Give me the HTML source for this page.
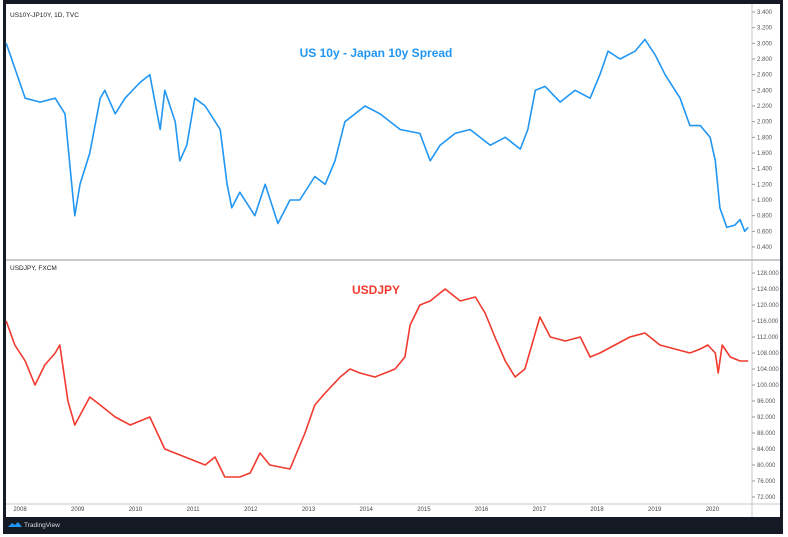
<!DOCTYPE html>
<html><head><meta charset="utf-8"><style>
body{margin:0;background:#fff;}
svg{display:block;font-family:"Liberation Sans",sans-serif;}
</style></head><body>
<svg id="c" width="788" height="537" viewBox="0 0 788 537">
<rect x="3" y="0" width="780" height="534" fill="#161a25"/>
<rect x="6" y="4" width="774" height="513" fill="#ffffff"/>
<line x1="752" y1="4" x2="752" y2="517" stroke="#c8c8c8" stroke-width="1"/>
<line x1="6" y1="260" x2="780" y2="260" stroke="#b8b8b8" stroke-width="1.5"/>
<line x1="6" y1="504" x2="780" y2="504" stroke="#c8c8c8" stroke-width="1"/>
<text x="10" y="17" font-size="6.5" fill="#222">US10Y-JP10Y, 1D, TVC</text>
<text x="10" y="270" font-size="6.5" fill="#222">USDJPY, FXCM</text>
<text x="376" y="57" font-size="12" font-weight="bold" fill="#2196f3" text-anchor="middle">US 10y - Japan 10y Spread</text>
<text x="376" y="294" font-size="12" font-weight="bold" fill="#f23a2f" text-anchor="middle">USDJPY</text>
<g id="g"></g>
<path d="M8 527 l4 -4 l3 2 l3 -3 l4 5 z" fill="#2196f3"/>
<text x="24" y="527" font-size="6.5" fill="#ddd">TradingView</text>
</svg>
<script>
const spreadDates=[2007.76,2008.09,2008.35,2008.61,2008.78,2008.87,2008.95,2009.04,2009.21,2009.39,2009.47,2009.65,2009.82,2010.08,2010.25,2010.43,2010.51,2010.69,2010.77,2010.89,2011.03,2011.21,2011.47,2011.59,2011.67,2011.81,2012.07,2012.25,2012.47,2012.68,2012.85,2013.11,2013.29,2013.46,2013.63,2013.98,2014.24,2014.59,2014.93,2015.11,2015.28,2015.54,2015.80,2016.15,2016.41,2016.67,2016.80,2016.93,2017.10,2017.36,2017.62,2017.88,2018.05,2018.19,2018.40,2018.66,2018.83,2019.01,2019.18,2019.44,2019.61,2019.79,2019.96,2020.05,2020.13,2020.25,2020.39,2020.48,2020.56,2020.62];
const spreadValues=[3.0,2.3,2.25,2.3,2.1,1.4,0.8,1.2,1.6,2.3,2.4,2.1,2.3,2.5,2.6,1.9,2.4,2.0,1.5,1.7,2.3,2.2,1.9,1.2,0.9,1.1,0.8,1.2,0.7,1.0,1.0,1.3,1.2,1.5,2.0,2.2,2.1,1.9,1.85,1.5,1.7,1.85,1.9,1.7,1.8,1.65,1.9,2.4,2.45,2.25,2.4,2.3,2.6,2.9,2.8,2.9,3.05,2.85,2.6,2.3,1.95,1.95,1.8,1.5,0.9,0.65,0.68,0.75,0.6,0.65];
const fxDates=[2007.76,2007.91,2008.09,2008.26,2008.43,2008.61,2008.69,2008.83,2008.95,2009.21,2009.39,2009.65,2009.91,2010.25,2010.51,2010.86,2011.21,2011.38,2011.55,2011.81,2011.99,2012.16,2012.33,2012.68,2012.94,2013.11,2013.29,2013.55,2013.72,2013.89,2014.15,2014.50,2014.67,2014.76,2014.93,2015.11,2015.28,2015.37,2015.63,2015.89,2016.06,2016.23,2016.41,2016.58,2016.75,2016.93,2017.01,2017.19,2017.45,2017.71,2017.88,2018.05,2018.31,2018.57,2018.83,2019.09,2019.35,2019.61,2019.79,2019.92,2020.05,2020.10,2020.17,2020.31,2020.48,2020.62];
const fxValues=[116,110,106,100,105,108,110,96,90,97,95,92,90,92,84,82,80,82,77,77,78,83,80,79,88,95,98,102,104,103,102,104,107,115,120,121,123,124,121,122,118,112,106,102,104,113,117,112,111,112,107,108,110,112,113,110,109,108,109,110,108,103,110,107,106,106];
const spreadTicks=["0.400","0.600","0.800","1.000","1.200","1.400","1.600","1.800","2.000","2.200","2.400","2.600","2.800","3.000","3.200","3.400"];
const fxTicks=["72.000","76.000","80.000","84.000","88.000","92.000","96.000","100.000","104.000","108.000","112.000","116.000","120.000","124.000","128.000"];
const yearLabels=["2008","2009","2010","2011","2012","2013","2014","2015","2016","2017","2018","2019","2020"];

const NS="http://www.w3.org/2000/svg";
const g=document.getElementById('g');
const xS=y=>20+(y-2008)*57.7;
const ySp=v=>247-(v-0.4)*78.33;
const yFx=v=>497-(v-72)*4;
function mk(t,a){const e=document.createElementNS(NS,t);for(const k in a)e.setAttribute(k,a[k]);g.appendChild(e);return e;}
spreadTicks.forEach(t=>{const y=ySp(parseFloat(t));
 const l=mk('line',{x1:752,y1:y,x2:755,y2:y,stroke:'#999'});
 
 
 const e=mk('text',{x:757,y:y+2,'font-size':6,fill:'#555'});e.textContent=t;
 
 });
fxTicks.forEach(t=>{const y=yFx(parseFloat(t));
 const l=mk('line',{x1:752,y1:y,x2:755,y2:y,stroke:'#999'});
 
 
 const e=mk('text',{x:757,y:y+2,'font-size':6,fill:'#555'});e.textContent=t;
 
 });
yearLabels.forEach(t=>{const x=xS(parseFloat(t));
 const e=mk('text',{x:x,y:511,'font-size':6,fill:'#444','text-anchor':'middle'});e.textContent=t;
 
 });
function line(d,v,ys,col,name){
 const p=mk('polyline',{points:d.map((t,i)=>xS(t).toFixed(1)+','+ys(v[i]).toFixed(1)).join(' '),fill:'none',stroke:col,'stroke-width':1.6,'stroke-linejoin':'round'});
 
 }
line(spreadDates,spreadValues,ySp,'#2196f3','spread-line');
line(fxDates,fxValues,yFx,'#f23a2f','usdjpy-line');
</script>
</body></html>
